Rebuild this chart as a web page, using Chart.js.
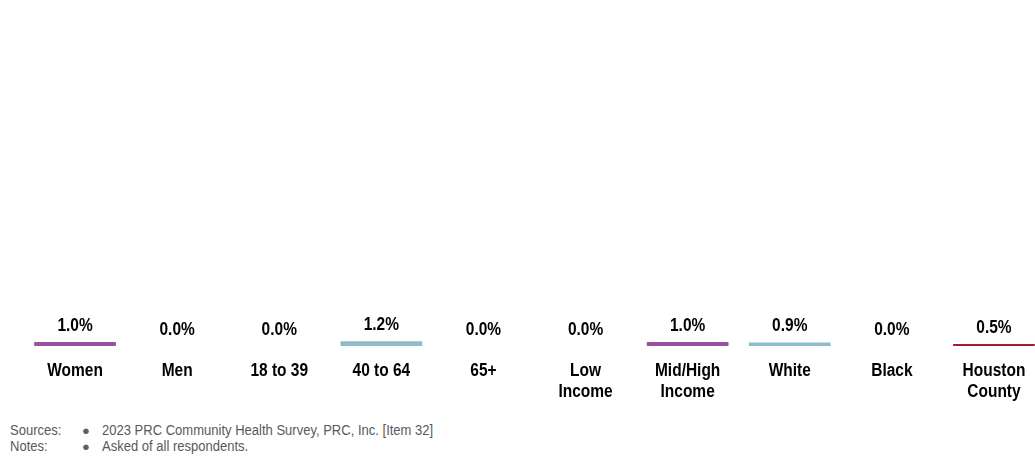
<!DOCTYPE html>
<html>
<head>
<meta charset="utf-8">
<script src="https://cdn.jsdelivr.net/npm/chart.js@4/dist/chart.umd.min.js"></script>
<style>
    html, body { margin: 0; padding: 0; background: #fff; overflow: hidden; }
    body { width: 1035px; height: 457px; position: relative; }
    #wrap { position: absolute; left: 0; top: 0; width: 1045px; height: 410px; }
    .notes { position: absolute; left: 10px; top: 422px; font-family: "Liberation Sans", Arial, sans-serif; font-size: 14px; color: #595959; line-height: 16px; }
    .notes div { white-space: nowrap; height: 16px; }
    .notes .k { display: inline-block; width: 72px; transform: scaleX(0.93); transform-origin: left; }
    .notes .b { display: inline-block; width: 20px; font-size: 13px; color: #606060; }
    .notes .t { display: inline-block; transform: scaleX(0.93); transform-origin: left; }
</style>
</head>
<body>
<div id="wrap"><canvas id="chart"></canvas></div>
<div class="notes">
    <div><span class="k">Sources:</span><span class="b">●</span><span class="t">2023 PRC Community Health Survey, PRC, Inc. [Item 32]</span></div>
    <div><span class="k">Notes:</span><span class="b">●</span><span class="t">Asked of all respondents.</span></div>
</div>
<script>
const categories = ['Women', 'Men', '18 to 39', '40 to 64', '65+', ['Low', 'Income'], ['Mid/High', 'Income'], 'White', 'Black', ['Houston', 'County']];
const values = [1.0, 0.0, 0.0, 1.2, 0.0, 0.0, 1.0, 0.9, 0.0, 0.5];
const barColors = ['#9b51a0', '#9b51a0', '#8fbcc8', '#8fbcc8', '#8fbcc8', '#9b51a0', '#9b51a0', '#8fbcc8', '#8fbcc8', '#a6192e'];

const FONT = '"Liberation Sans", Arial, sans-serif';
const NARROW = 0.86; // 原圖字體是窄體，這裡用水平縮放模擬

function narrowText(ctx, text, x, y) {
    ctx.save();
    ctx.translate(x, y);
    ctx.scale(NARROW, 1);
    ctx.fillText(text, 0, 0);
    ctx.restore();
}

// 數值標籤 + 類別標籤
const labelPlugin = {
    id: 'labelPlugin',
    afterDatasetsDraw(chart) {
        const ctx = chart.ctx;
        const meta = chart.getDatasetMeta(0);
        const xs = chart.scales.x;
        const bottom = chart.chartArea.bottom;
        ctx.save();
        ctx.font = 'bold 18px ' + FONT;
        ctx.fillStyle = '#000';
        ctx.textAlign = 'center';
        ctx.textBaseline = 'alphabetic';
        meta.data.forEach((bar, i) => {
            narrowText(ctx, values[i].toFixed(1) + '%', bar.x, bar.y - 11);
        });
        categories.forEach((lab, i) => {
            const x = xs.getPixelForValue(i);
            const lines = Array.isArray(lab) ? lab : [lab];
            lines.forEach((ln, j) => narrowText(ctx, ln, x, bottom + 30 + j * 21));
        });
        ctx.restore();
    }
};

new Chart(document.getElementById('chart'), {
    type: 'bar',
    data: {
        labels: categories,
        datasets: [{
            data: values,
            backgroundColor: barColors,
            borderWidth: 0,
            categoryPercentage: 1.0,
            barPercentage: 0.8
        }]
    },
    options: {
        responsive: true,
        maintainAspectRatio: false,
        animation: false,
        layout: { padding: { top: 26, left: 24, right: 0, bottom: 0 } },
        plugins: { legend: { display: false }, tooltip: { enabled: false } },
        scales: {
            x: {
                grid: { display: false, drawTicks: false },
                border: { display: false },
                ticks: { display: false },
                afterFit(scale) { scale.height = 64; }
            },
            y: {
                display: false,
                min: 0,
                max: 80
            }
        }
    },
    plugins: [labelPlugin]
});
</script>
</body>
</html>
